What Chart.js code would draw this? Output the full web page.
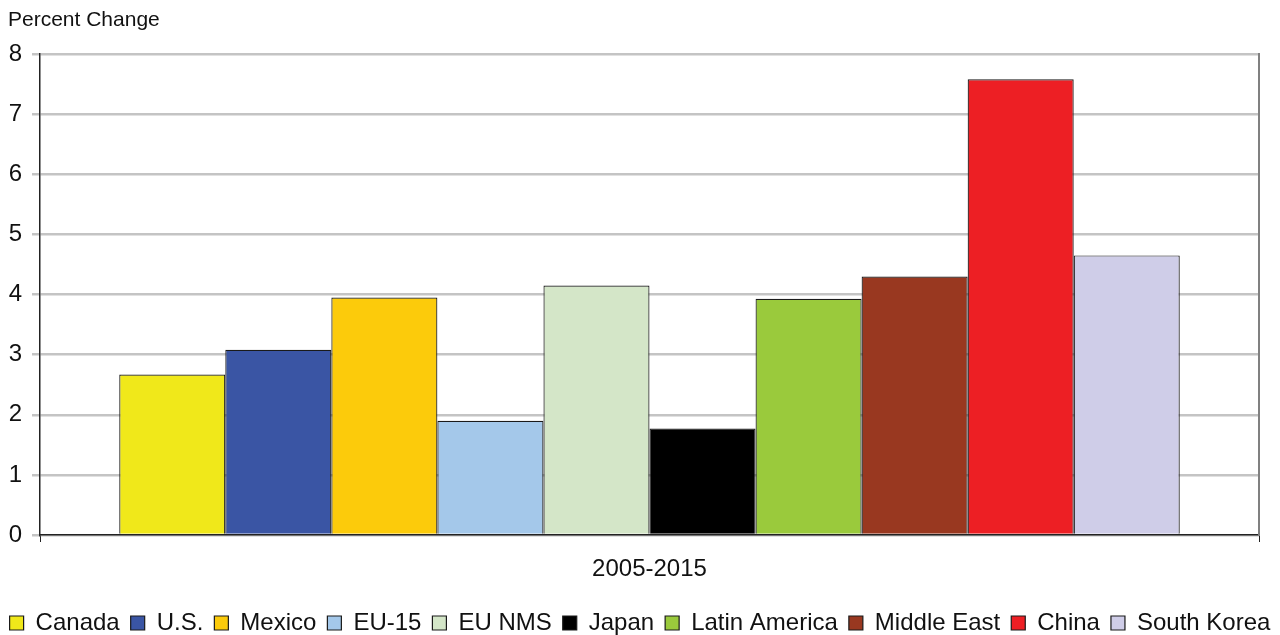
<!DOCTYPE html>
<html>
<head>
<meta charset="utf-8">
<script src="https://cdn.jsdelivr.net/npm/chart.js@4/dist/chart.umd.min.js"></script>
<style>
  html, body { margin: 0; padding: 0; background: #fff; }
  #wrap { width: 1280px; height: 635px; }
</style>
</head>
<body>
<div id="wrap"><canvas id="chart" width="1280" height="635"></canvas></div>
<script>
// data
var periods = ['2005-2015'];
var regions = ['Canada', 'U.S.', 'Mexico', 'EU-15', 'EU NMS', 'Japan', 'Latin America', 'Middle East', 'China', 'South Korea'];
var changes = [2.67, 3.08, 3.95, 1.90, 4.15, 1.77, 3.93, 4.30, 7.58, 4.65];
var colors = ['#f0e81a', '#3a55a4', '#fccb0b', '#a4c8ea', '#d4e6c8', '#000000', '#9aca3c', '#993820', '#ed1f24', '#cfcde8'];
var yTicks = [0, 1, 2, 3, 4, 5, 6, 7, 8];
var unitLabel = 'Percent Change';

Chart.defaults.font.family = '"Liberation Sans", Arial, sans-serif';
Chart.defaults.color = '#111';

// unit label in the top left corner
var unitTitle = {
    id: 'unitTitle',
    afterDraw: function(chart) {
        var c = chart.ctx;
        c.save();
        c.font = '21px "Liberation Sans", Arial, sans-serif';
        c.fillStyle = '#111';
        c.textBaseline = 'middle';
        c.textAlign = 'left';
        c.fillText(unitLabel, 8, 20);
        c.restore();
    }
};

var datasets = regions.map(function(name, i) {
    return {
        label: name,
        data: [changes[i]],
        backgroundColor: colors[i],
        borderColor: '#1a1a1a',
        borderWidth: 1.2,
        categoryPercentage: 0.87,
        barPercentage: 1.0
    };
});

new Chart(document.getElementById('chart').getContext('2d'), {
    type: 'bar',
    data: { labels: periods, datasets: datasets },
    plugins: [unitTitle],
    options: {
        responsive: false,
        animation: false,
        // negative side padding gives the legend a wider row
        layout: { padding: { left: -15, right: -15, top: 54, bottom: -10 } },
        plugins: {
            tooltip: { enabled: false },
            title: { display: false },
            legend: {
                position: 'bottom',
                labels: {
                    boxWidth: 14,
                    boxHeight: 14,
                    padding: 11,
                    font: { size: 24 },
                    color: '#111'
                }
            }
        },
        scales: {
            x: {
                offset: true,
                grid: { display: true, drawOnChartArea: false, tickLength: 7, color: '#222', offset: true },
                border: { color: '#222', width: 1.5 },
                ticks: { font: { size: 24 }, color: '#111', padding: 13 },
                afterFit: function(scale) { scale.height = 65; }
            },
            y: {
                min: 0,
                max: 8,
                afterBuildTicks: function(scale) {
                    scale.ticks = yTicks.map(function(v) { return { value: v }; });
                },
                grid: { color: '#c4c4c4', lineWidth: 2.5, tickLength: 8, tickColor: '#c4c4c4' },
                border: { color: '#222', width: 1.5 },
                ticks: { font: { size: 24 }, color: '#111', padding: 10 },
                afterFit: function(scale) { scale.width = 55; }
            },
            // empty right axis, only its grey frame line
            yRight: {
                position: 'right',
                min: 0,
                max: 8,
                grid: { display: false },
                ticks: { display: false },
                border: { color: '#808080', width: 2 },
                afterFit: function(scale) { scale.width = 36; }
            }
        }
    }
});
</script>
</body>
</html>
